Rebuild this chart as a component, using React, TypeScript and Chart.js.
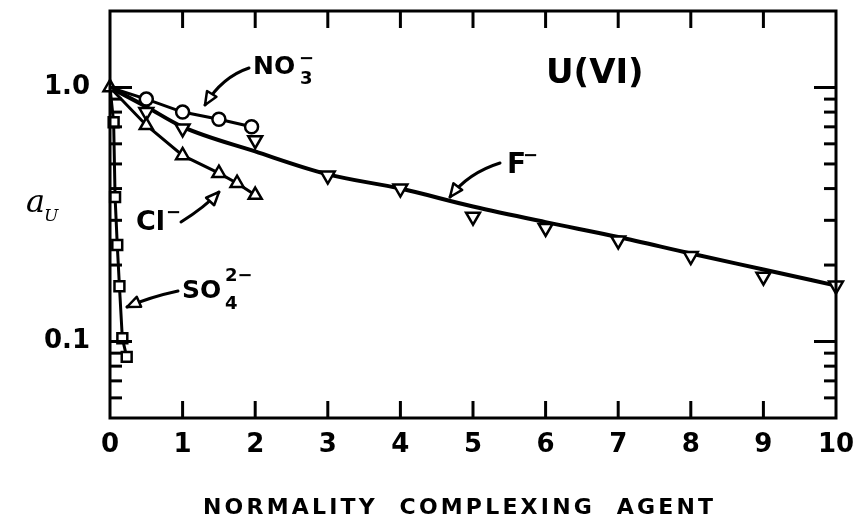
import React, { useEffect, useRef } from "react";
import { Chart, registerables } from "chart.js";
Chart.register(...registerables);

// ---- data ----
const xTickValues = [0, 1, 2, 3, 4, 5, 6, 7, 8, 9, 10];
const xTickLabels = ["0", "1", "2", "3", "4", "5", "6", "7", "8", "9", "10"];
const yMajorTicks = [0.1, 1];
const yMajorLabels = ["0.1", "1.0"];
const yMinorTicks = [0.06, 0.07, 0.08, 0.09, 0.2, 0.3, 0.4, 0.5, 0.6, 0.7, 0.8, 0.9];

const no3X = [0, 0.5, 1.0, 1.5, 1.95];
const no3Y = [1.0, 0.9, 0.8, 0.75, 0.7];

const fCurveX = [0, 0.5, 1, 2, 3, 4, 5, 6, 7, 8, 9, 10];
const fCurveY = [1.0, 0.84, 0.7, 0.56, 0.455, 0.4, 0.34, 0.295, 0.258, 0.222, 0.192, 0.166];
const fPointX = [0.5, 1, 2, 3, 4, 5, 6, 7, 8, 9, 10];
const fPointY = [0.8, 0.69, 0.62, 0.45, 0.4, 0.31, 0.28, 0.25, 0.217, 0.18, 0.166];

const clX = [0, 0.5, 1, 1.5, 1.75, 2];
const clY = [1.0, 0.71, 0.54, 0.46, 0.42, 0.377];

const so4X = [0, 0.05, 0.07, 0.1, 0.13, 0.17, 0.23];
const so4Y = [1.0, 0.73, 0.37, 0.24, 0.165, 0.103, 0.087];

const xTitle = "NORMALITY  COMPLEXING  AGENT";

const pts = (xs: number[], ys: number[]) => xs.map((x, i) => ({ x, y: ys[i] }));

const BOLD = '"DejaVu Sans", sans-serif';

function drawArrow(ctx: CanvasRenderingContext2D, p0: number[], c: number[], p1: number[]) {
  ctx.save();
  ctx.strokeStyle = "#000";
  ctx.lineWidth = 3;
  ctx.lineCap = "round";
  ctx.beginPath();
  ctx.moveTo(p0[0], p0[1]);
  ctx.quadraticCurveTo(c[0], c[1], p1[0], p1[1]);
  ctx.stroke();
  const ang = Math.atan2(p1[1] - c[1], p1[0] - c[0]);
  const L = 13, W = 5.5;
  const bx = p1[0] - L * Math.cos(ang), by = p1[1] - L * Math.sin(ang);
  ctx.beginPath();
  ctx.moveTo(p1[0], p1[1]);
  ctx.lineTo(bx + W * Math.sin(ang), by - W * Math.cos(ang));
  ctx.lineTo(bx - W * Math.sin(ang), by + W * Math.cos(ang));
  ctx.closePath();
  ctx.fillStyle = "#fff";
  ctx.fill();
  ctx.lineWidth = 2.5;
  ctx.lineJoin = "round";
  ctx.stroke();
  ctx.restore();
}

function txt(ctx: CanvasRenderingContext2D, s: string, x: number, y: number, font: string) {
  ctx.font = font;
  ctx.fillText(s, x, y);
}

const framePlugin = {
  id: "frame",
  afterDraw(chart: any) {
    const ctx: CanvasRenderingContext2D = chart.ctx;
    const { left, right, top, bottom } = chart.chartArea;
    const xs = chart.scales.x;
    const ys = chart.scales.y;
    ctx.save();
    ctx.strokeStyle = "#000";
    ctx.fillStyle = "#000";
    ctx.lineWidth = 3;
    ctx.strokeRect(left, top, right - left, bottom - top);
    const seg = (a: number, b: number, c: number, d: number) => {
      ctx.beginPath();
      ctx.moveTo(a, b);
      ctx.lineTo(c, d);
      ctx.stroke();
    };
    xTickValues.forEach((v) => {
      if (v === xs.min || v === xs.max) return;
      const px = xs.getPixelForValue(v);
      seg(px, top, px, top + 17);
      seg(px, bottom, px, bottom - 17);
    });
    yMajorTicks.forEach((v) => {
      const py = ys.getPixelForValue(v);
      seg(left, py, left + 22, py);
      seg(right, py, right - 22, py);
    });
    yMinorTicks.forEach((v) => {
      const py = ys.getPixelForValue(v);
      seg(left, py, left + 12, py);
      seg(right, py, right - 12, py);
    });

    // annotations
    ctx.textBaseline = "alphabetic";
    ctx.textAlign = "left";
    txt(ctx, "NO", 253, 74, `bold 25px ${BOLD}`);
    txt(ctx, "3", 300, 84, `bold 18px ${BOLD}`);
    txt(ctx, "\u2212", 299, 64, `bold 18px ${BOLD}`);
    drawArrow(ctx, [249, 68], [222, 77], [205, 105]);

    txt(ctx, "U(VI)", 546, 83, `bold 34px ${BOLD}`);

    txt(ctx, "F", 507, 173, `bold 28px ${BOLD}`);
    txt(ctx, "\u2212", 523, 161, `bold 18px ${BOLD}`);
    drawArrow(ctx, [500, 163], [468, 173], [450, 197]);

    txt(ctx, "Cl", 136, 230, `bold 27px ${BOLD}`);
    txt(ctx, "\u2212", 166, 218, `bold 18px ${BOLD}`);
    drawArrow(ctx, [181, 222], [205, 207], [219, 192]);

    txt(ctx, "SO", 182, 298, `bold 25px ${BOLD}`);
    txt(ctx, "4", 225, 309, `bold 18px ${BOLD}`);
    txt(ctx, "2\u2212", 225, 281, `bold 18px ${BOLD}`);
    drawArrow(ctx, [178, 291], [150, 297], [127, 307]);

    // y-axis title
    txt(ctx, "a", 26, 212, `italic 32px "DejaVu Serif", serif`);
    txt(ctx, "U", 44, 221, `italic 17px "DejaVu Serif", serif`);

    // x-axis title with letter spacing
    ctx.font = `bold 22px ${BOLD}`;
    const targetW = 510;
    const chars = xTitle.split("");
    const widths = chars.map((c) => ctx.measureText(c).width);
    const raw = widths.reduce((a, b) => a + b, 0);
    const sp = (targetW - raw) / (chars.length - 1);
    let x = 458 - targetW / 2;
    chars.forEach((c, i) => {
      ctx.fillText(c, x, 514);
      x += widths[i] + sp;
    });
    ctx.restore();
  },
};

export default function App() {
  const ref = useRef<HTMLCanvasElement | null>(null);
  useEffect(() => {
    if (!ref.current) return;
    const hideFirst = (r: number) => (c: any) => (c.dataIndex === 0 ? 0 : r);
    const base = {
      showLine: true,
      borderColor: "#000",
      pointBorderColor: "#000",
      pointBackgroundColor: "#fff",
      pointBorderWidth: 2.5,
      clip: false as any,
      tension: 0,
    };
    const chart = new Chart(ref.current, {
      type: "scatter",
      data: {
        datasets: [
          {
            ...base,
            label: "NO3-",
            data: pts(no3X, no3Y),
            borderWidth: 3,
            pointStyle: "circle",
            pointRadius: hideFirst(6.5) as any,
          },
          {
            ...base,
            label: "Cl-",
            data: pts(clX, clY),
            borderWidth: 3,
            pointStyle: "triangle",
            pointRadius: 7.5,
          },
          {
            ...base,
            label: "SO4 2-",
            data: pts(so4X, so4Y),
            borderWidth: 3,
            pointStyle: "rect",
            pointRadius: hideFirst(7) as any,
          },
          {
            ...base,
            label: "F- points",
            data: pts(fPointX, fPointY),
            showLine: false,
            pointStyle: "triangle",
            rotation: 180,
            pointRadius: 8,
          },
          {
            ...base,
            label: "F-",
            data: pts(fCurveX, fCurveY),
            borderWidth: 4,
            pointRadius: 0,
            cubicInterpolationMode: "monotone",
          },
        ],
      },
      options: {
        animation: false,
        responsive: false,
        events: [],
        layout: { padding: { top: 11, right: 20, left: 0, bottom: 0 } },
        plugins: { legend: { display: false }, tooltip: { enabled: false }, title: { display: false } },
        scales: {
          x: {
            type: "linear",
            min: 0,
            max: 10,
            afterBuildTicks: (s: any) => {
              s.ticks = xTickValues.map((v) => ({ value: v }));
            },
            afterFit: (s: any) => {
              s.height = 102;
              s.paddingLeft = 0;
              s.paddingRight = 0;
            },
            ticks: {
              autoSkip: false,
              maxRotation: 0,
              padding: 12,
              color: "#000",
              font: { family: BOLD, size: 26, weight: "bold" },
              callback: (v: any) => {
                const i = xTickValues.indexOf(Number(v));
                return i >= 0 ? xTickLabels[i] : "";
              },
            },
            grid: { display: false, drawTicks: false },
            border: { display: false },
          },
          y: {
            type: "logarithmic",
            min: 0.05,
            max: 2,
            afterBuildTicks: (s: any) => {
              s.ticks = yMajorTicks.map((v) => ({ value: v }));
            },
            afterFit: (s: any) => {
              s.width = 110;
              s.paddingTop = 0;
              s.paddingBottom = 0;
            },
            ticks: {
              autoSkip: false,
              padding: 20,
              color: "#000",
              font: { family: BOLD, size: 26, weight: "bold" },
              callback: (v: any) => {
                const i = yMajorTicks.findIndex((t) => Math.abs(t - Number(v)) < t * 1e-6);
                return i >= 0 ? yMajorLabels[i] : "";
              },
            },
            grid: { display: false, drawTicks: false },
            border: { display: false },
          },
        },
      },
      plugins: [framePlugin],
    });
    return () => chart.destroy();
  }, []);
  return (
    <div style={{ position: "absolute", left: 0, top: 0, width: 856, height: 520, background: "#fff" }}>
      <canvas ref={ref} width={856} height={520} style={{ width: 856, height: 520, display: "block" }} />
    </div>
  );
}
